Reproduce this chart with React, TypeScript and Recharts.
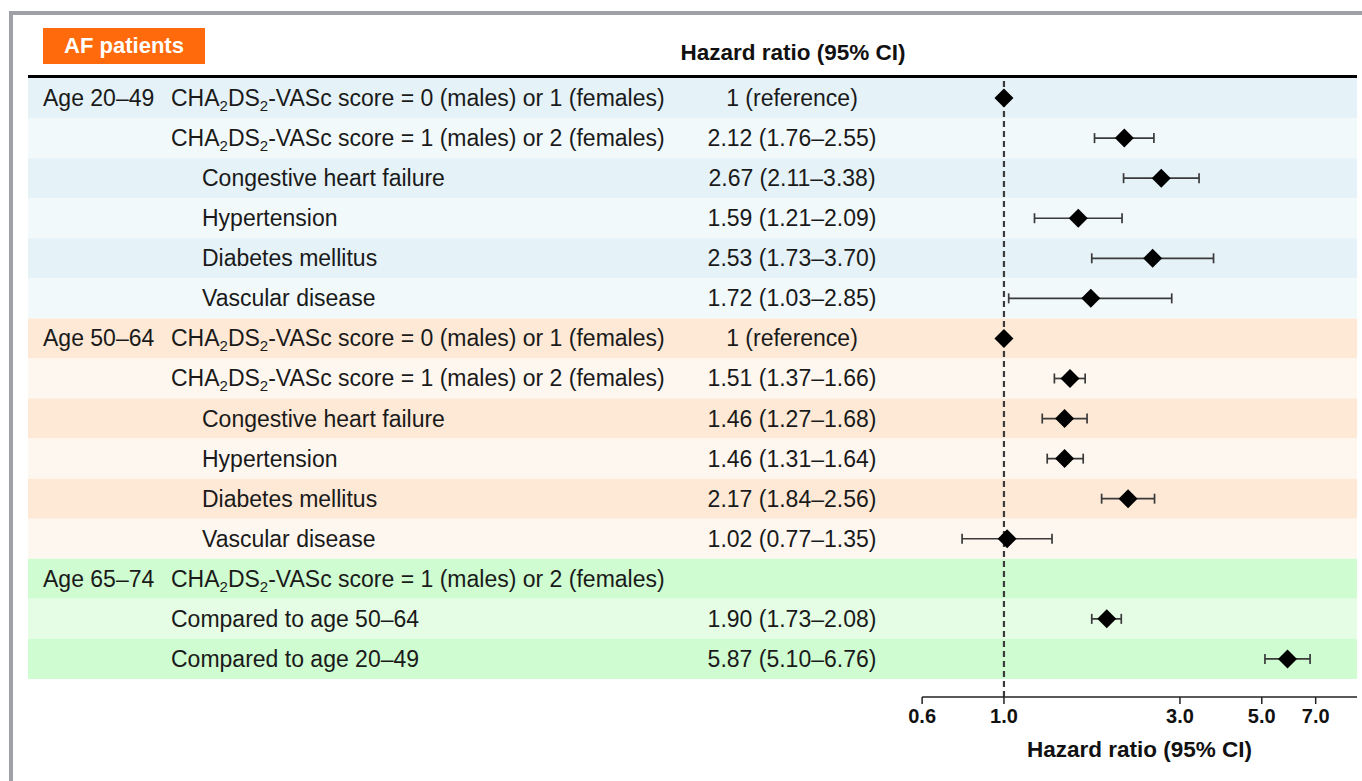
import React from "react"
import {
  ComposedChart,
  Scatter,
  ErrorBar,
  XAxis,
  YAxis,
  ReferenceArea,
  ReferenceLine
} from "recharts"

// rows of the forest plot, top to bottom
const groups = [
  "Age 20–49", "", "", "", "", "",
  "Age 50–64", "", "", "", "", "",
  "Age 65–74", "", ""
]

const labels = [
  "CHA2DS2-VASc score = 0 (males) or 1 (females)",
  "CHA2DS2-VASc score = 1 (males) or 2 (females)",
  "Congestive heart failure",
  "Hypertension",
  "Diabetes mellitus",
  "Vascular disease",
  "CHA2DS2-VASc score = 0 (males) or 1 (females)",
  "CHA2DS2-VASc score = 1 (males) or 2 (females)",
  "Congestive heart failure",
  "Hypertension",
  "Diabetes mellitus",
  "Vascular disease",
  "CHA2DS2-VASc score = 1 (males) or 2 (females)",
  "Compared to age 50–64",
  "Compared to age 20–49"
]

// risk factor rows sit under the score row
const isFactor = [false, false, true, true, true, true, false, false, true, true, true, true, false, false, false]

const hrText = [
  "1 (reference)", "2.12 (1.76–2.55)", "2.67 (2.11–3.38)", "1.59 (1.21–2.09)", "2.53 (1.73–3.70)", "1.72 (1.03–2.85)",
  "1 (reference)", "1.51 (1.37–1.66)", "1.46 (1.27–1.68)", "1.46 (1.31–1.64)", "2.17 (1.84–2.56)", "1.02 (0.77–1.35)",
  "", "1.90 (1.73–2.08)", "5.87 (5.10–6.76)"
]

const hr: (number | null)[] = [1, 2.12, 2.67, 1.59, 2.53, 1.72, 1, 1.51, 1.46, 1.46, 2.17, 1.02, null, 1.90, 5.87]
const ciLow: (number | null)[] = [null, 1.76, 2.11, 1.21, 1.73, 1.03, null, 1.37, 1.27, 1.31, 1.84, 0.77, null, 1.73, 5.10]
const ciHigh: (number | null)[] = [null, 2.55, 3.38, 2.09, 3.70, 2.85, null, 1.66, 1.68, 1.64, 2.56, 1.35, null, 2.08, 6.76]

const xTicks = [0.6, 1, 3, 5, 7]

const bandColors = [
  "#E5F2F7", "#F2F9FB", "#E5F2F7", "#F2F9FB", "#E5F2F7", "#F2F9FB",
  "#FDE9D6", "#FEF7F0", "#FDE9D6", "#FEF7F0", "#FDE9D6", "#FEF7F0",
  "#CFFCD0", "#E4FDE4", "#CFFCD0"
]

const X_MIN = 0.00226
const X_MAX = 9.06
const FONT = "'Liberation Sans', Arial, sans-serif"
const FS = 23

const rows = labels.map((label, i) => ({
  y: i + 1,
  x: 1,
  group: groups[i],
  label,
  factor: isFactor[i],
  hrText: hrText[i]
}))

const points = hr
  .map((v, i) => ({
    y: i + 1,
    x: v,
    err: v == null ? null : [ciLow[i] == null ? 0 : v - (ciLow[i] as number), ciHigh[i] == null ? 0 : (ciHigh[i] as number) - v]
  }))
  .filter(p => p.x != null)

function LabelText({ x, y, text }: { x: number; y: number; text: string }) {
  if (text.startsWith("CHA2DS2")) {
    const rest = text.slice(7)
    return (
      <text x={x} y={y} fontSize={FS} fill="#1a1a1a" fontFamily={FONT}>
        <tspan>CHA</tspan>
        <tspan fontSize={15} dy={5}>2</tspan>
        <tspan dy={-5}>DS</tspan>
        <tspan fontSize={15} dy={5}>2</tspan>
        <tspan dy={-5}>{rest}</tspan>
      </text>
    )
  }
  return (
    <text x={x} y={y} fontSize={FS} fill="#1a1a1a" fontFamily={FONT}>
      {text}
    </text>
  )
}

function RowText(props: any) {
  const { cy, payload } = props
  const base = cy + 8
  return (
    <g>
      {payload.group && <LabelText x={43} y={base} text={payload.group} />}
      <LabelText x={payload.factor ? 202 : 171} y={base} text={payload.label} />
      {payload.hrText && (
        <text x={792} y={base} fontSize={FS} fill="#1a1a1a" fontFamily={FONT} textAnchor="middle">
          {payload.hrText}
        </text>
      )}
    </g>
  )
}

function Diamond(props: any) {
  const { cx, cy } = props
  const s = 9.5
  return (
    <polygon
      points={`${cx},${cy - s} ${cx + s},${cy} ${cx},${cy + s} ${cx - s},${cy}`}
      fill="#000"
    />
  )
}

export default function App() {
  return (
    <div style={{ position: "absolute", left: 0, top: 0, width: 1362, height: 781, background: "#fff", overflow: "hidden" }}>

      {/* frame */}
      <div style={{ position: "absolute", left: 9, top: 11, width: 1400, height: 800, borderLeft: "4px solid #A0A0A8", borderTop: "4px solid #A0A0A8" }} />

      {/* tag */}
      <div style={{ position: "absolute", left: 43, top: 28, width: 162, height: 36, background: "#FF6A0D", color: "#fff", fontFamily: FONT, fontWeight: "bold", fontSize: 22, lineHeight: "36px", textAlign: "center" }}>
        AF patients
      </div>

      <div style={{ position: "absolute", left: 593, width: 400, top: 40, textAlign: "center", fontFamily: FONT, fontWeight: "bold", fontSize: 22.5, color: "#111" }}>
        Hazard ratio (95% CI)
      </div>

      <div style={{ position: "absolute", left: 0, top: 0 }}>
        <ComposedChart width={1362} height={781} margin={{ top: 78, left: 28, right: 5, bottom: 24 }}>

          <XAxis
            type="number"
            dataKey="x"
            scale="log"
            domain={[X_MIN, X_MAX]}
            allowDataOverflow
            ticks={xTicks}
            tickFormatter={(v: number) => v.toFixed(1)}
            axisLine={false}
            tickLine={{ stroke: "#222", strokeWidth: 1.5 }}
            tickSize={7}
            tickMargin={5}
            height={60}
            tick={{ fill: "#111", fontSize: 20, fontWeight: "bold", fontFamily: FONT }}
          />

          <YAxis type="number" dataKey="y" domain={[0.5, 15.95]} reversed hide allowDataOverflow />

          {bandColors.map((c, i) => (
            <ReferenceArea
              key={i}
              x1={X_MIN}
              x2={X_MAX}
              y1={i + 0.5}
              y2={i + 1.5}
              fill={c}
              fillOpacity={1}
              stroke="none"
            />
          ))}

          <ReferenceLine y={0.46} stroke="#000" strokeWidth={3} ifOverflow="visible" />

          <ReferenceLine x={1} stroke="#3a3a3a" strokeWidth={2.2} strokeDasharray="6 4" />

          {/* axis line */}
          <ReferenceLine
            segment={[{ x: 0.6, y: 15.95 }, { x: X_MAX, y: 15.95 }]}
            stroke="#222"
            strokeWidth={1.5}
            ifOverflow="visible"
            label={(p: any) => {
              const vb = p.viewBox || {}
              const cx = (vb.x || 0) + (vb.width || 0) / 2
              return (
                <text x={cx} y={(vb.y || 0) + 60} textAnchor="middle" fontSize={22.5} fontWeight="bold" fontFamily={FONT} fill="#111">
                  Hazard ratio (95% CI)
                </text>
              )
            }}
          />

          <Scatter data={rows} dataKey="y" shape={RowText} isAnimationActive={false} />

          <Scatter data={points} dataKey="y" shape={Diamond} isAnimationActive={false}>
            <ErrorBar dataKey="err" direction="x" width={5} stroke="#3a3a3a" strokeWidth={1.7} />
          </Scatter>

        </ComposedChart>
      </div>

    </div>
  )
}
